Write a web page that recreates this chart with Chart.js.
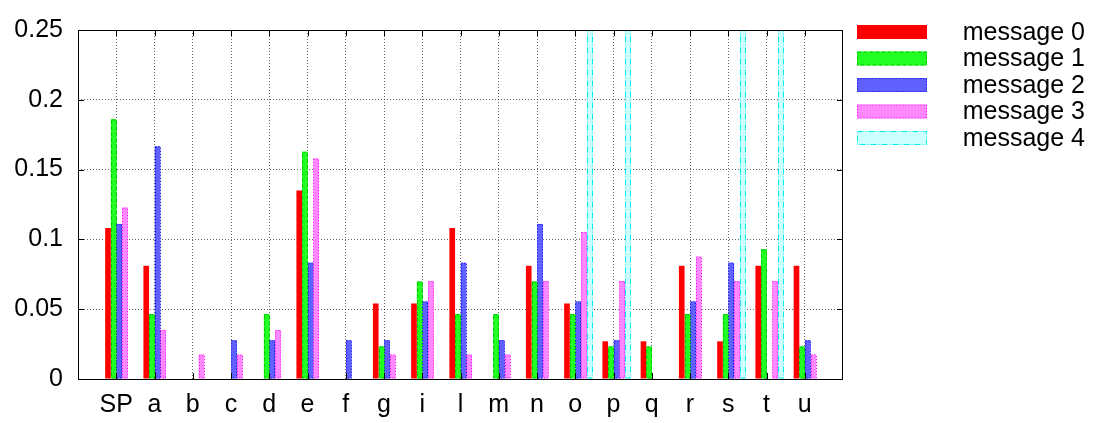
<!DOCTYPE html>
<html>
<head>
<meta charset="utf-8">
<script src="https://cdn.jsdelivr.net/npm/chart.js@4.4.1/dist/chart.umd.min.js"></script>
<style>
  html, body { margin: 0; padding: 0; background: #fff; }
</style>
</head>
<body>
<canvas id="chart" width="1093" height="423"></canvas>
<script>
// letter frequencies per message
const letters = ['SP', 'a', 'b', 'c', 'd', 'e', 'f', 'g', 'i', 'l', 'm', 'n', 'o', 'p', 'q', 'r', 's', 't', 'u'];
const message0 = [0.1081, 0.0811, 0, 0, 0, 0.1351, 0, 0.0541, 0.0541, 0.1081, 0, 0.0811, 0.0541, 0.0270, 0.0270, 0.0811, 0.0270, 0.0811, 0.0811];
const message1 = [0.1860, 0.0465, 0, 0, 0.0465, 0.1628, 0, 0.0233, 0.0698, 0.0465, 0.0465, 0.0698, 0.0465, 0.0233, 0.0233, 0.0465, 0.0465, 0.0930, 0.0233];
const message2 = [0.1111, 0.1667, 0, 0.0278, 0.0278, 0.0833, 0.0278, 0.0278, 0.0556, 0.0833, 0.0278, 0.1111, 0.0556, 0.0278, 0, 0.0556, 0.0833, 0, 0.0278];
const message3 = [0.1228, 0.0351, 0.0175, 0.0175, 0.0351, 0.1579, 0, 0.0175, 0.0702, 0.0175, 0.0175, 0.0702, 0.1053, 0.0702, 0, 0.0877, 0.0702, 0.0702, 0.0175];
const message4 = [0, 0, 0, 0, 0, 0, 0, 0, 0, 0, 0, 0, 0.25, 0.25, 0, 0, 0.25, 0.25, 0];
const seriesNames = ['message 0', 'message 1', 'message 2', 'message 3', 'message 4'];
const yTicks = [0, 0.05, 0.1, 0.15, 0.2, 0.25];

const FONT = "'Liberation Sans', Arial, sans-serif";
const GRID = 'rgba(0,0,0,0.6)';
const GROUP_SHIFT = 0.08; // gnuplot clusters sit a half bar right of the tic

const styles = [
  { fill: '#ff0000', line: '#ff0000', dash: [] },
  { fill: '#22ff22', line: '#00cc00', dash: [4, 2] },
  { fill: '#6060ff', line: '#0000ee', dash: [1, 2] },
  { fill: '#ff88ff', line: '#ff00ff', dash: [1, 2] },
  { fill: '#ccffff', line: '#00eeee', dash: [6, 2, 1, 2] },
];

const series = [message0, message1, message2, message3, message4];

const datasets = series.map((vals, k) => ({
  label: seriesNames[k],
  data: vals.map((v, i) => ({ x: i + GROUP_SHIFT, y: v })),
  backgroundColor: styles[k].fill,
  borderWidth: 0,
  outlineColor: styles[k].line,
  outlineDash: styles[k].dash,
  categoryPercentage: 0.74,
  barPercentage: 1.0,
}));

// dashed outlines on bars, like gnuplot's line types
const barOutline = {
  id: 'barOutline',
  afterDatasetsDraw(chart) {
    const ctx = chart.ctx, a = chart.chartArea;
    ctx.save();
    ctx.beginPath();
    ctx.rect(a.left, a.top, a.right - a.left, a.bottom - a.top);
    ctx.clip();
    chart.data.datasets.forEach((ds, k) => {
      if (!ds.outlineDash.length) return;
      const meta = chart.getDatasetMeta(k);
      ctx.strokeStyle = ds.outlineColor;
      ctx.lineWidth = 1;
      ctx.setLineDash(ds.outlineDash);
      meta.data.forEach(bar => {
        const p = bar.getProps(['x', 'y', 'base', 'width'], true);
        if (Math.abs(p.base - p.y) < 0.5) return;
        ctx.strokeRect(Math.round(p.x - p.width / 2) + 0.5, p.y + 0.5, Math.round(p.width) - 1, p.base - p.y - 1);
      });
    });
    ctx.restore();
  }
};

// plot border with inward tics on all four sides
const frame = {
  id: 'frame',
  afterDraw(chart) {
    const ctx = chart.ctx, a = chart.chartArea;
    const xs = chart.scales.x, ys = chart.scales.y;
    ctx.save();
    ctx.strokeStyle = '#000';
    ctx.lineWidth = 1;
    ctx.strokeRect(a.left + 0.5, a.top + 0.5, a.right - a.left - 1, a.bottom - a.top);
    ctx.beginPath();
    ys.ticks.forEach(t => {
      const y = Math.round(ys.getPixelForValue(t.value)) + 0.5;
      ctx.moveTo(a.left, y); ctx.lineTo(a.left + 6, y);
      ctx.moveTo(a.right, y); ctx.lineTo(a.right - 6, y);
    });
    letters.forEach((l, i) => {
      const x = Math.round(xs.getPixelForValue(i)) + 0.5;
      ctx.moveTo(x, a.bottom); ctx.lineTo(x, a.bottom - 6);
      ctx.moveTo(x, a.top); ctx.lineTo(x, a.top + 6);
    });
    ctx.stroke();
    ctx.restore();
  }
};

// legend on the right, text right-aligned like gnuplot's key
const key = {
  id: 'key',
  afterDraw(chart) {
    const ctx = chart.ctx;
    ctx.save();
    ctx.font = '25px ' + FONT;
    ctx.textAlign = 'right';
    ctx.textBaseline = 'middle';
    chart.data.datasets.forEach((ds, k) => {
      const cy = 32 + k * 26.5;
      ctx.fillStyle = ds.backgroundColor;
      ctx.fillRect(857, cy - 7, 70, 14);
      ctx.strokeStyle = ds.outlineColor;
      ctx.lineWidth = 1;
      ctx.setLineDash(ds.outlineDash);
      if (ds.outlineDash.length) ctx.strokeRect(857.5, cy - 6.5, 69, 13);
      ctx.setLineDash([]);
      ctx.fillStyle = '#000';
      ctx.fillText(ds.label, 1085, cy + 1);
    });
    ctx.restore();
  }
};

new Chart(document.getElementById('chart'), {
  type: 'bar',
  data: { datasets },
  plugins: [barOutline, frame, key],
  options: {
    responsive: false,
    devicePixelRatio: 1,
    animation: false,
    layout: { padding: { top: 18, right: 250, left: 0, bottom: 0 } },
    plugins: { legend: { display: false }, tooltip: { enabled: false } },
    scales: {
      x: {
        type: 'linear',
        min: -1,
        max: 19,
        offset: false,
        afterFit(scale) { scale.height = 44; },
        afterBuildTicks(scale) {
          scale.ticks = letters.map((l, i) => ({ value: i }));
        },
        ticks: {
          autoSkip: false,
          maxRotation: 0,
          padding: 11,
          color: '#000',
          font: { family: FONT, size: 25 },
          callback: v => letters[v] ?? '',
        },
        grid: { color: GRID, lineWidth: 1, drawTicks: false, offset: false },
        border: { display: false, dash: [1, 2] },
      },
      y: {
        min: 0,
        max: 0.25,
        afterFit(scale) { scale.width = 78; },
        afterBuildTicks(scale) {
          scale.ticks = yTicks.map(v => ({ value: v }));
        },
        ticks: {
          padding: 15,
          color: '#000',
          font: { family: FONT, size: 25 },
          callback: v => String(v),
        },
        grid: {
          color: ctx => (ctx.tick && ctx.tick.value > 0 && ctx.tick.value < 0.25) ? GRID : 'rgba(0,0,0,0)',
          lineWidth: 1,
          drawTicks: false,
        },
        border: { display: false, dash: [1, 2] },
      }
    }
  }
});
</script>
</body>
</html>
